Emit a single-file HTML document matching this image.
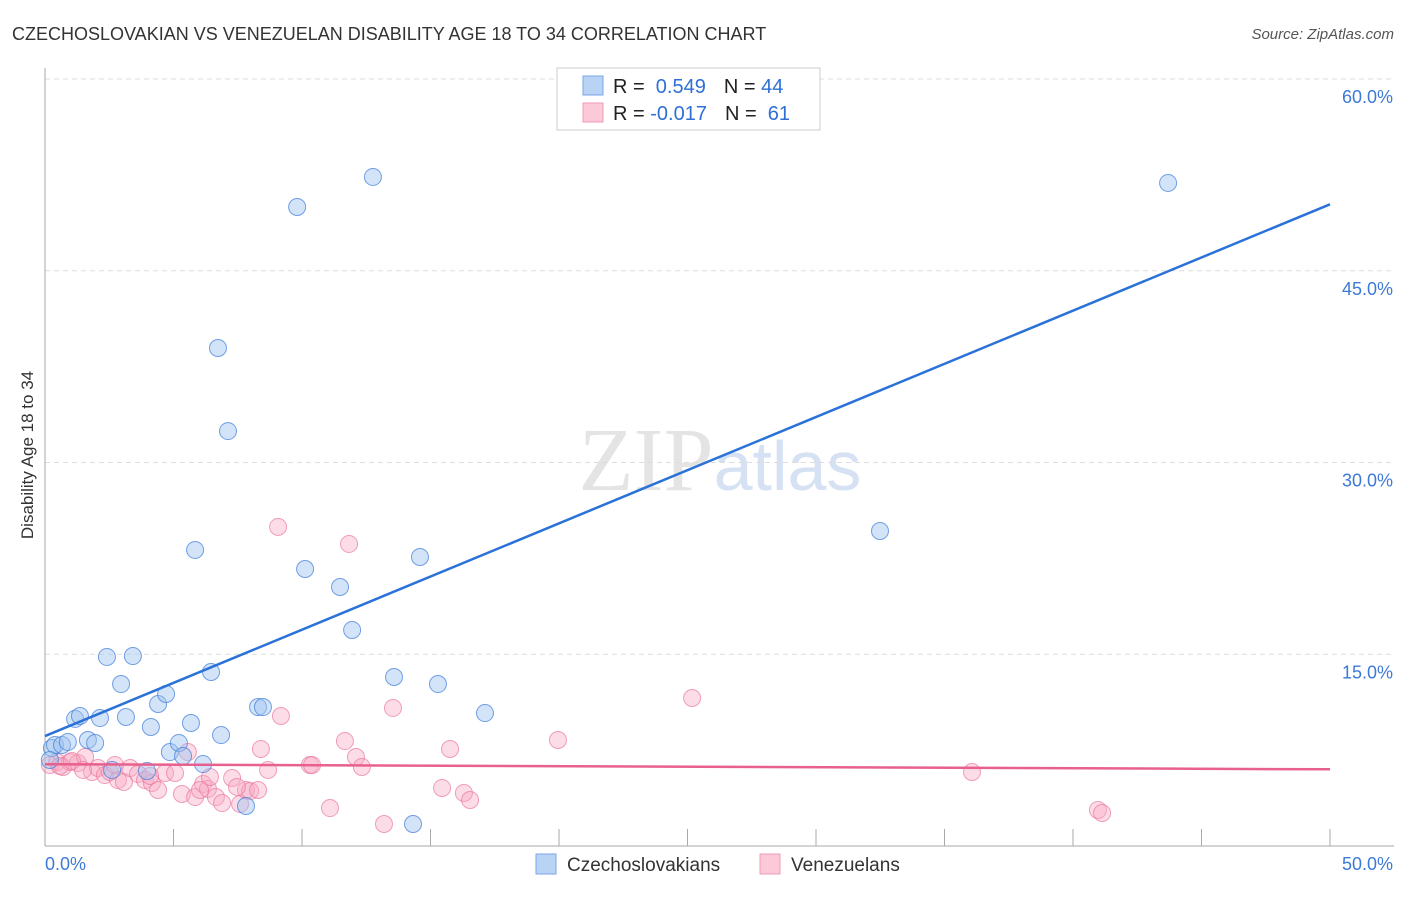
<!DOCTYPE html>
<html><head><meta charset="utf-8"><style>
body{margin:0;background:#fff;font-family:"Liberation Sans",sans-serif}
</style></head><body>
<svg id="chart" width="1406" height="892" xmlns="http://www.w3.org/2000/svg" font-family="Liberation Sans, sans-serif">
<text x="12" y="40" font-size="18" fill="#333">CZECHOSLOVAKIAN VS VENEZUELAN DISABILITY AGE 18 TO 34 CORRELATION CHART</text>
<text x="1394" y="39" font-size="15" fill="#555" font-style="italic" text-anchor="end">Source: ZipAtlas.com</text>
<text x="720" y="490" font-size="90" fill="#e4e4e4" text-anchor="middle" font-family="Liberation Serif, serif">ZIP<tspan fill="#d6e2f4" font-family="Liberation Sans, sans-serif" font-size="70">atlas</tspan></text>
<text transform="translate(33,455) rotate(-90)" font-size="17" fill="#333" text-anchor="middle">Disability Age 18 to 34</text>
<g id="grid"></g><g id="axes"></g><g id="pts"></g><g id="lines"></g>
<g>
<rect x="557" y="68" width="263" height="62" fill="#fff" stroke="#ccc"/>
<rect x="583" y="76" width="20" height="19" fill="#b9d3f5" stroke="#7aa6e6"/>
<rect x="583" y="103" width="20" height="19" fill="#fcc9d8" stroke="#f29ab5"/>
<text x="613" y="93" font-size="20" fill="#222">R = <tspan fill="#2f6fd6">&#160;0.549</tspan><tspan dx="18">N = </tspan><tspan fill="#2f6fd6">44</tspan></text>
<text x="613" y="120" font-size="20" fill="#222">R = <tspan fill="#2f6fd6">-0.017</tspan><tspan dx="18">N = </tspan><tspan fill="#2f6fd6">&#160;61</tspan></text>
</g>
<g>
<rect x="536" y="854" width="20" height="20" fill="#b9d3f5" stroke="#7aa6e6"/>
<text x="567" y="871" font-size="19" fill="#333">Czechoslovakians</text>
<rect x="760" y="854" width="20" height="20" fill="#fcc9d8" stroke="#f29ab5"/>
<text x="791" y="871" font-size="19" fill="#333">Venezuelans</text>
</g>
</svg>
<script>
const yTicks=[15,30,45,60];
const yTickLabels=["15.0%","30.0%","45.0%","60.0%"];
const xLabels=["0.0%","50.0%"];
const bluePx=[[52,748],[55,745],[62,745],[68,742],[75,719],[80,716],[88,740],[95,743],[100,718],[107,657],[121,684],[126,717],[133,656],[112,770],[147,771],[151,727],[158,704],[166,694],[170,752],[179,743],[183,756],[191,723],[195,550],[203,764],[211,672],[218,348],[221,735],[228,431],[246,806],[258,707],[263,707],[297,207],[305,569],[340,587],[352,630],[373,177],[394,677],[413,824],[420,557],[438,684],[485,713],[880,531],[1168,183],[50,760]];
const pinkPx=[[50,765],[57,762],[63,767],[70,762],[78,763],[85,757],[92,772],[98,768],[105,775],[110,772],[118,780],[124,782],[130,768],[138,774],[145,780],[152,783],[158,790],[165,773],[175,773],[182,794],[188,752],[195,797],[203,784],[208,789],[210,777],[216,797],[222,803],[232,778],[240,804],[246,790],[250,791],[258,790],[261,749],[268,770],[278,527],[281,716],[310,765],[312,765],[330,808],[345,741],[349,544],[356,757],[362,767],[384,824],[393,708],[442,788],[450,749],[464,793],[470,800],[558,740],[692,698],[972,772],[1098,810],[1102,813],[60,766],[72,761],[83,770],[115,765],[150,776],[200,790],[237,787]];
// data values (x %, y %) derived from reading the image
const blueX=bluePx.map(p=>+((p[0]-45)/25.7).toFixed(2));
const blueY=bluePx.map(p=>+((846-p[1])/12.783).toFixed(2));
const pinkX=pinkPx.map(p=>+((p[0]-45)/25.7).toFixed(2));
const pinkY=pinkPx.map(p=>+((846-p[1])/12.783).toFixed(2));
const blueTrend=[8.6,50.2];
const pinkTrend=[6.4,6.0];
const X=v=>45+v*25.7, Y=v=>846-v*12.783;
const NS="http://www.w3.org/2000/svg";
function mk(tag,attrs,parent){const e=document.createElementNS(NS,tag);for(const k in attrs)e.setAttribute(k,attrs[k]);document.getElementById(parent).appendChild(e);return e;}
yTicks.forEach((t,i)=>{
 const l=mk('line',{x1:45,x2:1394,y1:Y(t),y2:Y(t),stroke:'#ddd','stroke-dasharray':'5,4'},'grid');
 
 
 const tx=mk('text',{x:1393,y:Y(t)+24,'font-size':18,fill:'#3d7ad8','text-anchor':'end'},'grid');
 tx.textContent=yTickLabels[i];
 
 
});
let ax=mk('line',{x1:45,x2:45,y1:68,y2:846,stroke:'#aaa'},'axes');


ax=mk('line',{x1:45,x2:1394,y1:846,y2:846,stroke:'#aaa'},'axes');


for(let v=5;v<=50;v+=5){const t=mk('line',{x1:X(v),x2:X(v),y1:829,y2:846,stroke:'#aaa'},'axes');
 
 }
let t0=mk('text',{x:45,y:870,'font-size':18,fill:'#3d7ad8'},'axes');t0.textContent=xLabels[0];


t0=mk('text',{x:1393,y:870,'font-size':18,fill:'#3d7ad8','text-anchor':'end'},'axes');t0.textContent=xLabels[1];


pinkX.forEach((x,i)=>{const c=mk('circle',{cx:X(x),cy:Y(pinkY[i]),r:8.5,fill:'rgba(248,170,195,0.4)',stroke:'rgba(235,120,160,0.7)','stroke-width':1},'pts');
 
 });
blueX.forEach((x,i)=>{const c=mk('circle',{cx:X(x),cy:Y(blueY[i]),r:8.5,fill:'rgba(160,195,240,0.45)',stroke:'rgba(70,130,220,0.75)','stroke-width':1},'pts');
 
 });
let ln=mk('line',{x1:X(0),y1:Y(blueTrend[0]),x2:X(50),y2:Y(blueTrend[1]),stroke:'#2a72d8','stroke-width':2.5},'lines');


ln=mk('line',{x1:X(0),y1:Y(pinkTrend[0]),x2:X(50),y2:Y(pinkTrend[1]),stroke:'#e8608e','stroke-width':2.5},'lines');


</script>
</body></html>
